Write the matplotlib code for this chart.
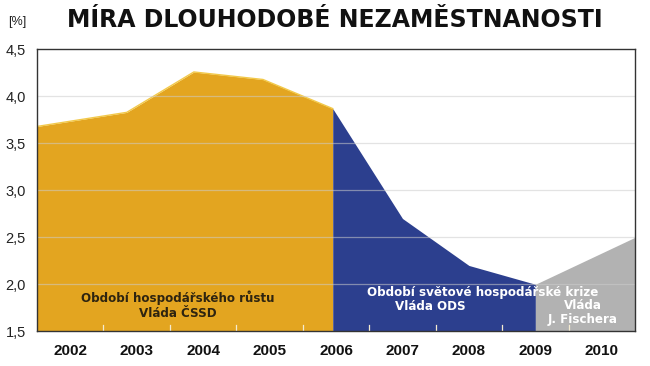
import matplotlib
matplotlib.use("Agg")
import matplotlib.pyplot as plt
from matplotlib.ticker import FixedLocator, FuncFormatter

# data
years = [2002, 2003, 2004, 2005, 2006, 2007, 2008, 2009, 2010]
growth_x = [2001.5, 2002.85, 2003.86, 2004.9, 2005.95]
growth_y = [3.68, 3.83, 4.26, 4.18, 3.87]
crisis_x = [2005.95, 2007.0, 2008.0, 2009.0]
crisis_y = [3.87, 2.70, 2.20, 2.00]
fischer_x = [2009.0, 2010.5]
fischer_y = [2.00, 2.50]

title = "MÍRA DLOUHODOBÉ NEZAMĚSTNANOSTI"
label_growth = "Období hospodářského růstu\nVláda ČSSD"
label_crisis = "Období světové hospodářské krize"
label_ods = "Vláda ODS"
label_fischer = "Vláda\nJ. Fischera"

plt.rcParams['font.family'] = ['Liberation Sans', 'DejaVu Sans']
wide = ['DejaVu Sans']  # wider face for title and notes

fig = plt.figure(figsize=(6.5, 3.66), dpi=100)
ax = fig.add_axes([0.057, 0.095, 0.92, 0.77])

base = 1.5
ax.fill_between(growth_x, growth_y, base, color='#E3A520', lw=0, zorder=1)
ax.plot(growth_x, growth_y, color='#F2C94A', lw=1, zorder=1.5)
ax.fill_between(crisis_x, crisis_y, base, color='#2C3F8E', lw=0, zorder=1)
ax.fill_between(fischer_x, fischer_y, base, color='#B2B2B2', lw=0, zorder=1)

ax.set_xlim(2001.5, 2010.5)
ax.set_ylim(1.5, 4.5)

# horizontal grid over the fills
for v in [2.0, 2.5, 3.0, 3.5, 4.0]:
    ax.axhline(v, color='#CCCCCC', lw=0.9, alpha=0.55, zorder=2)

ax.yaxis.set_major_locator(FixedLocator([1.5, 2.0, 2.5, 3.0, 3.5, 4.0, 4.5]))
ax.yaxis.set_major_formatter(FuncFormatter(lambda v, p: f"{v:.1f}".replace('.', ',')))
ax.tick_params(axis='y', length=0, labelsize=10.5, pad=8, colors='#222222')

ax.set_xticks(years)
ax.set_xticklabels([str(y) for y in years], fontweight='bold', fontsize=11)
ax.tick_params(axis='x', length=0, pad=9, colors='#111111')
# short boundary ticks inside the plot
for b in [y + 0.5 for y in years[:-1]]:
    ax.plot([b, b], [base, base + 0.07], color='#F4EBD0', lw=0.9, zorder=3)

for s in ax.spines.values():
    s.set_color('#333333')
    s.set_linewidth(1.0)
    s.set_zorder(4)

note = dict(ha='center', va='center', fontsize=8.6, fontweight='bold', family=wide, zorder=5)
ax.text(2003.62, 1.78, label_growth, color='#2E2410', linespacing=1.2, **note)
ax.text(2008.2, 1.91, label_crisis, color='white', **note)
ax.text(2007.42, 1.76, label_ods, color='white', **note)
ax.text(2009.71, 1.70, label_fischer, color='white', linespacing=1.1, **note)

fig.text(0.515, 0.944, title, ha='center', va='center', fontsize=17,
         fontweight='bold', family=wide, color='#111111')
fig.text(0.012, 0.94, "[%]", ha='left', va='center', fontsize=9, color='#222222')

fig.savefig("out.png", dpi=100)
